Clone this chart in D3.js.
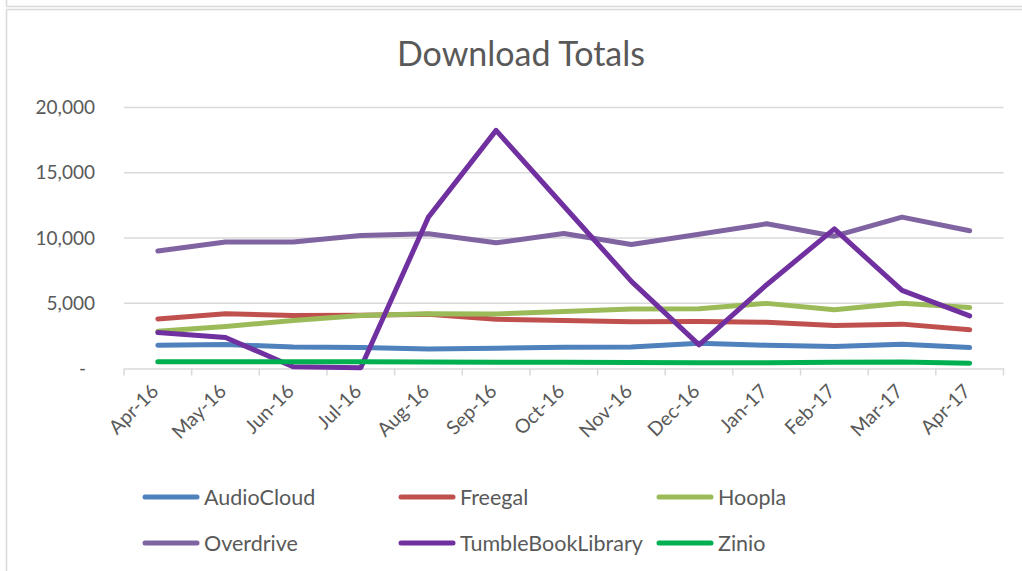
<!DOCTYPE html>
<html><head><meta charset="utf-8">
<script src="https://cdn.jsdelivr.net/npm/d3@7"></script>
<style>
body{margin:0;background:#fff;}
svg{display:block;font-family:Lato,"Noto Sans",sans-serif;}
</style></head>
<body>
<svg id="chart" width="1022" height="571"></svg>
<script>
const categories = ["Apr-16","May-16","Jun-16","Jul-16","Aug-16","Sep-16","Oct-16","Nov-16","Dec-16","Jan-17","Feb-17","Mar-17","Apr-17"];
const seriesNames = ["AudioCloud","Freegal","Hoopla","Overdrive","TumbleBookLibrary","Zinio"];
const audioCloud = [1780,1830,1650,1600,1500,1550,1630,1650,1940,1780,1680,1850,1600];
const freegal = [3800,4190,4060,4080,4150,3780,3680,3580,3600,3550,3300,3400,2970];
const hoopla = [2850,3220,3680,4060,4190,4170,4370,4550,4580,4990,4500,5000,4670];
const overdrive = [9010,9700,9700,10200,10330,9630,10340,9500,10290,11090,10140,11600,10550];
const tumbleBook = [2760,2370,140,60,11600,18250,12450,6680,1810,6420,10700,5980,4030];
const zinio = [520,520,510,510,490,480,480,460,440,450,470,500,400];
const seriesValues = [audioCloud,freegal,hoopla,overdrive,tumbleBook,zinio];
const seriesColors = ["#4f81bd","#c0504d","#9bbb59","#8064a2","#7030a0","#00b050"];
const yTicks = [0,5000,10000,15000,20000];
const title = "Download Totals";

const svg = d3.select("#chart");
const textColor = "#595959";
const gridColor = "#d9d9d9";

// frame lines (spreadsheet cell / chart border)
svg.append("line").attr("x1",6.5).attr("x2",1022).attr("y1",6.5).attr("y2",6.5).attr("stroke",gridColor).attr("stroke-width",1.5);
svg.append("line").attr("x1",6.5).attr("x2",6.5).attr("y1",0).attr("y2",6.5).attr("stroke",gridColor).attr("stroke-width",1.5);
svg.append("line").attr("x1",6.5).attr("x2",1022).attr("y1",9.5).attr("y2",9.5).attr("stroke",gridColor).attr("stroke-width",1.5);
svg.append("line").attr("x1",6.5).attr("x2",6.5).attr("y1",9.5).attr("y2",571).attr("stroke",gridColor).attr("stroke-width",1.5);

const plot = {left:124, right:1003.5, top:107.5, bottom:368.5};
const x = d3.scaleBand().domain(categories).range([plot.left, plot.right]);
const y = d3.scaleLinear().domain([0,20000]).range([plot.bottom, plot.top]);

// title
svg.append("text").attr("x",521).attr("y",66).attr("text-anchor","middle")
  .attr("fill",textColor).style("font-size","34px").text(title);

// gridlines
svg.append("g").selectAll("line").data(yTicks.filter(d=>d>0)).join("line")
  .attr("x1",plot.left).attr("x2",plot.right)
  .attr("y1",d=>y(d)).attr("y2",d=>y(d))
  .attr("stroke",gridColor).attr("stroke-width",1.5);

// y axis labels
const fmt = d3.format(",");
svg.append("g").selectAll("text").data(yTicks).join("text")
  .attr("x",d=>d===0?86:95).attr("y",d=>y(d)).attr("dy","0.35em")
  .attr("text-anchor","end").attr("fill",textColor).style("font-size","19px")
  .text(d=>d===0?"-":fmt(d));

// x axis
const xAxis = d3.axisBottom(x).tickSize(0).tickFormat("");
const gx = svg.append("g").attr("transform",`translate(0,${plot.bottom})`).call(xAxis);
gx.select(".domain").attr("stroke",gridColor).attr("stroke-width",1.5);
const edges = categories.map(c=>x(c)).concat([plot.right]);
gx.selectAll("line.edge").data(edges).join("line").attr("class","edge")
  .attr("x1",d=>d).attr("x2",d=>d).attr("y1",0).attr("y2",7)
  .attr("stroke",gridColor).attr("stroke-width",1.5);
svg.append("g").selectAll("text").data(categories).join("text")
  .attr("transform",d=>`translate(${x(d)+x.bandwidth()/2+2},${plot.bottom+24}) rotate(-45)`)
  .attr("text-anchor","end").attr("fill",textColor).style("font-size","19.5px")
  .text(d=>d);

// lines
const line = d3.line().x((d,i)=>x(categories[i])+x.bandwidth()/2).y(d=>y(d));
svg.append("g").selectAll("path").data(seriesValues).join("path")
  .attr("d",d=>line(d)).attr("fill","none")
  .attr("stroke",(d,i)=>seriesColors[i]).attr("stroke-width",5)
  .attr("stroke-linecap","round").attr("stroke-linejoin","round");

// legend
const legX = [145,401,659], legY = [497,543];
const leg = svg.append("g").selectAll("g").data(seriesNames).join("g")
  .attr("transform",(d,i)=>`translate(${legX[i%3]},${legY[Math.floor(i/3)]})`);
leg.append("line").attr("x1",0).attr("x2",52).attr("y1",0).attr("y2",0)
  .attr("stroke",(d,i)=>seriesColors[i]).attr("stroke-width",5).attr("stroke-linecap","round");
leg.append("text").attr("x",59).attr("y",0).attr("dy","0.35em")
  .attr("fill",textColor).style("font-size","21.5px").text(d=>d);
</script>
</body></html>
